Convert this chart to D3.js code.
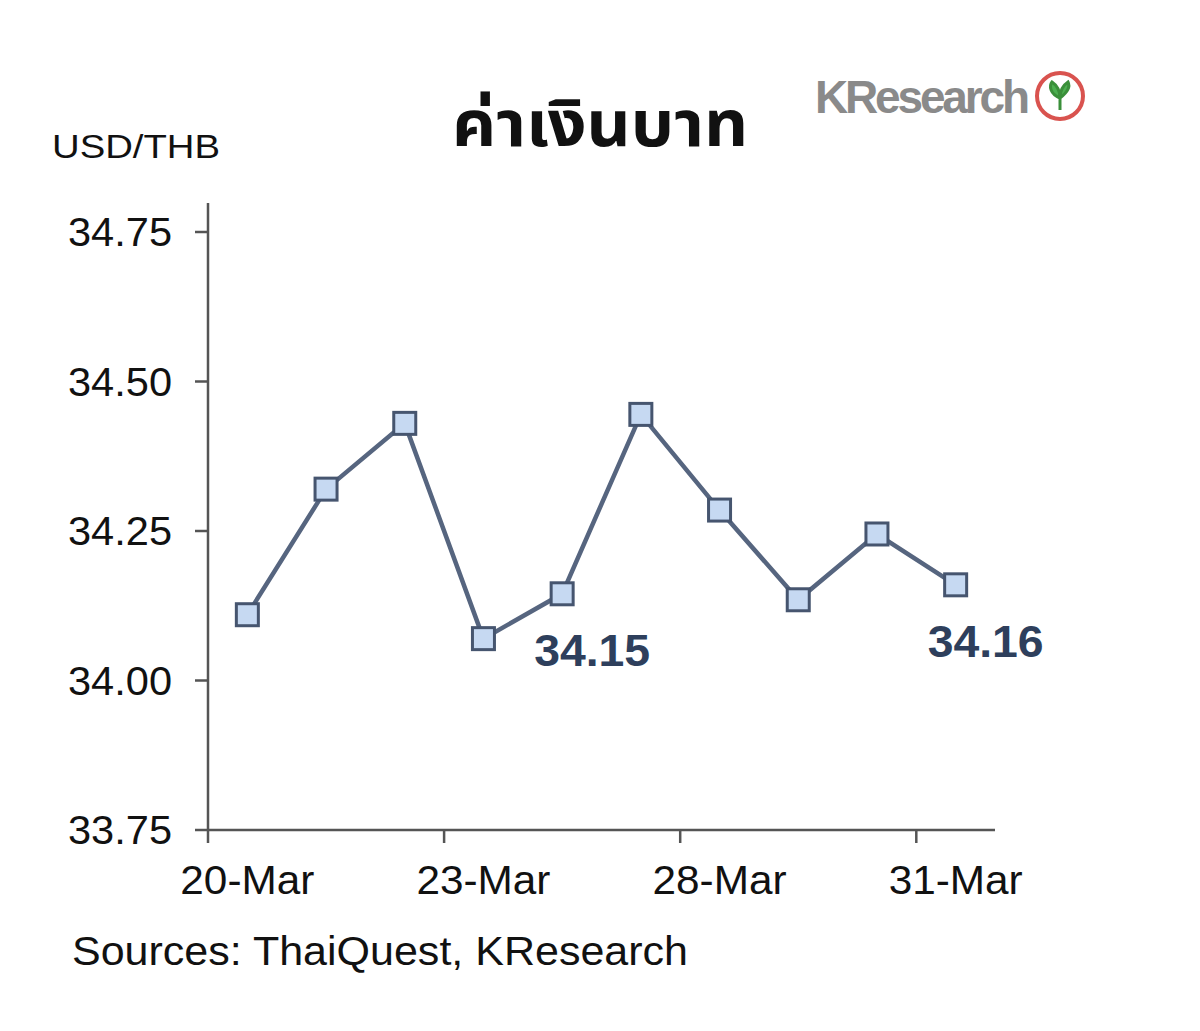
<!DOCTYPE html>
<html>
<head>
<meta charset="utf-8">
<script src="https://cdn.jsdelivr.net/npm/d3@7"></script>
<style>body{margin:0;background:#fff}</style>
</head>
<body>
<svg id="svg"></svg>
<script>
const dates = ['20-Mar','21-Mar','22-Mar','23-Mar','24-Mar','27-Mar','28-Mar','29-Mar','30-Mar','31-Mar']
const rates = [34.11, 34.32, 34.43, 34.07, 34.145, 34.445, 34.285, 34.135, 34.245, 34.16]
const yTicks = [33.75, 34.00, 34.25, 34.50, 34.75]
const shownDates = ['20-Mar','23-Mar','28-Mar','31-Mar']
const callouts = [{i: 4, text: '34.15'}, {i: 9, text: '34.16'}]

const WIDTH = 1200, HEIGHT = 1031
const svg = d3.select('svg').attr('width', WIDTH).attr('height', HEIGHT)
const font = 'Liberation Sans, Arial, sans-serif'

const x = d3.scaleBand().domain(dates).range([208, 995])
const y = d3.scaleLinear().domain([33.75, 34.75]).range([830, 232])

// axes
svg.append('line').attr('x1', 208).attr('x2', 208).attr('y1', 203).attr('y2', 830)
    .attr('stroke', '#555').attr('stroke-width', 2.5)
svg.append('line').attr('x1', 208).attr('x2', 995).attr('y1', 830).attr('y2', 830)
    .attr('stroke', '#555').attr('stroke-width', 2.5)

svg.selectAll('.ytick').data(yTicks).enter().append('line')
    .attr('x1', 195).attr('x2', 208)
    .attr('y1', d => y(d)).attr('y2', d => y(d))
    .attr('stroke', '#555').attr('stroke-width', 2.5)
svg.selectAll('.ylab').data(yTicks).enter().append('text')
    .attr('x', 172).attr('y', d => y(d) + 14)
    .attr('text-anchor', 'end')
    .attr('font-family', font).attr('font-size', 40).attr('fill', '#111')
    .attr('textLength', 104).attr('lengthAdjust', 'spacingAndGlyphs')
    .text(d => d.toFixed(2))

const xTickIdx = [0, 3, 6, 9]
svg.selectAll('.xtick').data(xTickIdx).enter().append('line')
    .attr('x1', d => x(dates[d])).attr('x2', d => x(dates[d]))
    .attr('y1', 830).attr('y2', 843)
    .attr('stroke', '#555').attr('stroke-width', 2.5)
svg.selectAll('.xlab').data(shownDates).enter().append('text')
    .attr('x', d => x(d) + x.bandwidth() / 2 - 67).attr('y', 894)
    .attr('font-family', font).attr('font-size', 40).attr('fill', '#111')
    .attr('textLength', 134).attr('lengthAdjust', 'spacingAndGlyphs')
    .text(d => d)

// line
const line = d3.line()
    .x((d, i) => x(dates[i]) + x.bandwidth() / 2)
    .y(d => y(d))
svg.append('path').datum(rates).attr('d', line)
    .attr('fill', 'none').attr('stroke', '#56657f').attr('stroke-width', 4.5)

svg.selectAll('.pt').data(rates).enter().append('rect')
    .attr('x', (d, i) => x(dates[i]) + x.bandwidth() / 2 - 11)
    .attr('y', d => y(d) - 11)
    .attr('width', 22).attr('height', 22)
    .attr('fill', '#c6d9f2').attr('stroke', '#46556f').attr('stroke-width', 3)

svg.selectAll('.callout').data(callouts).enter().append('text')
    .attr('x', d => x(dates[d.i]) + x.bandwidth() / 2 - 28)
    .attr('y', d => y(rates[d.i]) + 72)
    .attr('font-family', font).attr('font-size', 44).attr('font-weight', 'bold')
    .attr('fill', '#2e3f5c')
    .attr('textLength', 116).attr('lengthAdjust', 'spacingAndGlyphs')
    .text(d => d.text)

// titles
svg.append('text').attr('x', 52).attr('y', 158)
    .attr('font-family', font).attr('font-size', 34).attr('fill', '#111')
    .attr('textLength', 168).attr('lengthAdjust', 'spacingAndGlyphs')
    .text('USD/THB')
svg.append('text').attr('x', 452).attr('y', 146)
    .attr('font-family', 'Noto Sans Thai, Noto Sans, sans-serif').attr('font-size', 64)
    .attr('font-weight', 'bold').attr('fill', '#111')
    .attr('textLength', 296).attr('lengthAdjust', 'spacingAndGlyphs')
    .text('ค่าเงินบาท')
svg.append('text').attr('x', 72).attr('y', 965)
    .attr('font-family', font).attr('font-size', 40).attr('fill', '#111')
    .attr('textLength', 616).attr('lengthAdjust', 'spacingAndGlyphs')
    .text('Sources: ThaiQuest, KResearch')

// logo
svg.append('text').attr('x', 815).attr('y', 113)
    .attr('font-family', font).attr('font-size', 46).attr('font-weight', 'bold')
    .attr('fill', '#8a8a8a').attr('textLength', 215)
    .text('KResearch')
svg.append('circle').attr('cx', 1060).attr('cy', 96).attr('r', 23)
    .attr('fill', '#fff').attr('stroke', '#d9534f').attr('stroke-width', 4)
svg.append('path').attr('d', 'M1060,110 L1060,96 M1060,98 C1050,94 1049,86 1052,82 C1058,86 1060,92 1060,98 M1060,98 C1068,92 1070,86 1068,82 C1062,86 1060,92 1060,98')
    .attr('fill', '#4caf50').attr('stroke', '#3a8f3a').attr('stroke-width', 3)
</script>
</body>
</html>
